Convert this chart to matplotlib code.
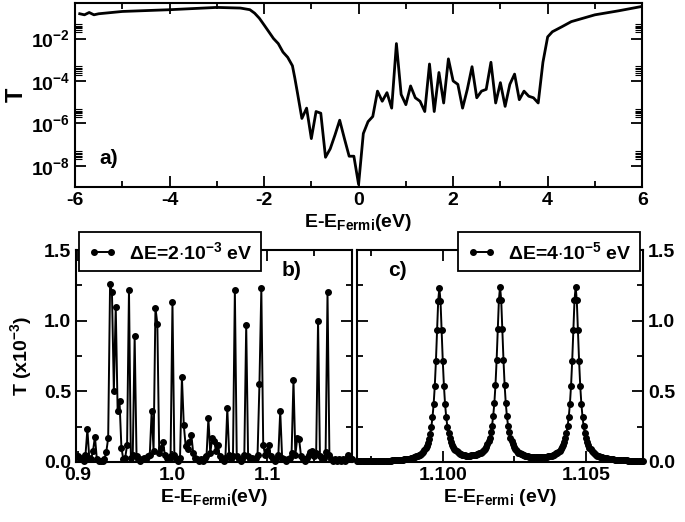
import numpy as np
import matplotlib
matplotlib.use("Agg")
import matplotlib.pyplot as plt
from matplotlib.ticker import MultipleLocator, FixedLocator, NullFormatter

plt.rcParams['font.family'] = ['Liberation Sans', 'DejaVu Sans']
plt.rcParams['font.weight'] = 'bold'
plt.rcParams['axes.labelweight'] = 'bold'
plt.rcParams['mathtext.fontset'] = 'custom'
plt.rcParams['mathtext.rm'] = 'Liberation Sans:bold'
plt.rcParams['mathtext.bf'] = 'Liberation Sans:bold'
plt.rcParams['mathtext.it'] = 'Liberation Sans:bold'

# ---- panel a) : wide energy window, log scale ----
x_a = [-5.9, -5.8, -5.7, -5.6, -5.5, -5.0, -4.0, -3.0, -2.5, -2.3, -2.2, -2.1,
       -2.0, -1.9, -1.8, -1.7, -1.6, -1.5, -1.4, -1.35, -1.3, -1.2, -1.1, -1.0,
       -0.9, -0.8, -0.7, -0.6, -0.5, -0.4, -0.3, -0.2, -0.1, 0.0,
       0.1, 0.2, 0.3, 0.4, 0.5, 0.6, 0.7, 0.8, 0.9, 1.0,
       1.1, 1.2, 1.3, 1.4, 1.5, 1.6, 1.7, 1.8, 1.9, 2.0,
       2.1, 2.2, 2.3, 2.4, 2.5, 2.6, 2.7, 2.8, 2.9, 3.0,
       3.1, 3.2, 3.3, 3.4, 3.5, 3.6, 3.7, 3.8, 3.9,
       4.0, 4.1, 4.3, 4.5, 5.0, 5.5, 6.0]
T_a = [0.148, 0.132, 0.17, 0.132, 0.148, 0.19, 0.23, 0.295, 0.275, 0.23, 0.158, 0.091,
       0.044, 0.021, 0.01, 5.8e-3, 2.3e-3, 1.3e-3, 5.2e-4, 1.4e-4, 3.3e-5, 1.7e-6, 5.2e-6, 1.9e-7,
       3.6e-6, 3.0e-6, 2.5e-8, 6.3e-8, 2.8e-7, 1.4e-6, 1.9e-7, 2.8e-8, 2.8e-8, 1.3e-9,
       3.3e-7, 1.2e-6, 2.1e-6, 3.3e-5, 1.1e-5, 2.8e-5, 5.2e-6, 5.8e-3, 2.3e-5, 7.6e-6,
       5.8e-5, 1.6e-5, 1.1e-5, 3.6e-6, 6.3e-4, 3.6e-6, 2.5e-4, 9.1e-6, 1.1e-3, 1.0e-4,
       6.9e-5, 5.2e-6, 4.0e-5, 4.7e-4, 1.6e-5, 3.3e-5, 4.0e-5, 7.6e-4, 9.1e-6, 8.3e-5,
       6.3e-6, 6.9e-5, 2.1e-4, 1.3e-5, 3.3e-5, 1.9e-5, 1.6e-5, 9.1e-6, 7.6e-4,
       1.2e-2, 2.1e-2, 3.6e-2, 6.3e-2, 0.132, 0.204, 0.33]

# ---- panel b) : dE = 2e-3 eV sampling ----
dE_b = 2e-3
x_b = 0.900 + dE_b * np.arange(146)
T_b = [0.04, 0.03, 0.02, 0.01, 0.05, 0.23, 0.03, 0.02, 0.08, 0.18,
       0.02, 0.01, 0.01, 0.01, 0.02, 0.07, 0.17, 1.26, 1.20, 0.50,
       1.10, 0.36, 0.43, 0.10, 0.02, 0.03, 0.12, 1.22, 0.03, 0.05,
       0.89, 0.04, 0.02, 0.01, 0.02, 0.03, 0.02, 0.04, 0.05, 0.36,
       0.08, 1.09, 0.98, 0.06, 0.10, 0.14, 0.05, 0.03, 0.02, 0.04,
       1.13, 0.05, 0.02, 0.01, 0.03, 0.60, 0.26, 0.11, 0.09, 0.14,
       0.19, 0.06, 0.03, 0.02, 0.01, 0.02, 0.01, 0.03, 0.04, 0.31,
       0.06, 0.17, 0.15, 0.08, 0.12, 0.04, 0.02, 0.01, 0.03, 0.38,
       0.05, 0.02, 0.04, 1.22, 0.04, 0.02, 0.01, 0.02, 0.05, 0.97,
       0.04, 0.02, 0.03, 0.02, 0.03, 0.05, 0.55, 1.23, 0.12, 0.05,
       0.08, 0.12, 0.04, 0.02, 0.01, 0.02, 0.05, 0.36, 0.03, 0.02,
       0.01, 0.02, 0.03, 0.06, 0.58, 0.05, 0.17, 0.16, 0.04, 0.02,
       0.01, 0.03, 0.05, 0.07, 0.08, 0.04, 0.06, 1.00, 0.04, 0.02,
       0.03, 0.07, 1.20, 0.05, 0.02, 0.01, 0.02, 0.01, 0.02, 0.01,
       0.02, 0.01, 0.02, 0.05, 0.03, 0.02]

# ---- panel c) : dE = 4e-5 eV sampling ----
dE_c = 4e-5
x_c = 1.0970 + dE_c * np.arange(251)
T_c = [0.004, 0.004, 0.004, 0.004, 0.004, 0.005, 0.005, 0.005, 0.005, 0.005,
       0.005, 0.005, 0.005, 0.006, 0.006, 0.006, 0.006, 0.006, 0.006, 0.007,
       0.007, 0.007, 0.007, 0.007, 0.008, 0.008, 0.008, 0.008, 0.009, 0.009,
       0.010, 0.011, 0.011, 0.012, 0.012, 0.013, 0.013, 0.014, 0.015, 0.015,
       0.017, 0.018, 0.019, 0.020, 0.021, 0.022, 0.024, 0.026, 0.028, 0.030,
       0.032, 0.035, 0.039, 0.042, 0.047, 0.052, 0.058, 0.066, 0.074, 0.085,
       0.099, 0.116, 0.137, 0.165, 0.201, 0.249, 0.315, 0.407, 0.536, 0.712,
       0.932, 1.142, 1.230, 1.142, 0.932, 0.714, 0.538, 0.409, 0.317, 0.251,
       0.206, 0.170, 0.143, 0.122, 0.106, 0.093, 0.083, 0.075, 0.068, 0.062,
       0.057, 0.053, 0.051, 0.048, 0.046, 0.045, 0.044, 0.043, 0.042, 0.042,
       0.046, 0.047, 0.048, 0.049, 0.051, 0.054, 0.056, 0.060, 0.065, 0.070,
       0.077, 0.085, 0.095, 0.108, 0.125, 0.146, 0.173, 0.209, 0.257, 0.323,
       0.415, 0.544, 0.720, 0.938, 1.148, 1.240, 1.148, 0.938, 0.720, 0.544,
       0.415, 0.323, 0.257, 0.209, 0.173, 0.145, 0.124, 0.107, 0.094, 0.083,
       0.075, 0.067, 0.062, 0.057, 0.053, 0.050, 0.046, 0.043, 0.042, 0.040,
       0.037, 0.036, 0.034, 0.034, 0.034, 0.033, 0.033, 0.032, 0.032, 0.032,
       0.032, 0.033, 0.033, 0.033, 0.034, 0.035, 0.037, 0.039, 0.040, 0.042,
       0.044, 0.047, 0.050, 0.055, 0.060, 0.065, 0.073, 0.081, 0.092, 0.105,
       0.121, 0.142, 0.170, 0.206, 0.254, 0.320, 0.412, 0.541, 0.717, 0.935,
       1.144, 1.240, 1.144, 0.934, 0.716, 0.540, 0.411, 0.319, 0.253, 0.205,
       0.168, 0.140, 0.119, 0.102, 0.089, 0.078, 0.070, 0.062, 0.056, 0.051,
       0.045, 0.042, 0.038, 0.035, 0.033, 0.031, 0.029, 0.027, 0.025, 0.024,
       0.022, 0.021, 0.020, 0.019, 0.018, 0.017, 0.016, 0.015, 0.015, 0.014,
       0.013, 0.012, 0.012, 0.012, 0.011, 0.011, 0.011, 0.010, 0.010, 0.010,
       0.009, 0.009, 0.009, 0.009, 0.008, 0.008, 0.008, 0.008, 0.008, 0.008, 0.007]

FS = 14

fig = plt.figure(figsize=(6.85, 5.22), dpi=100)
ax_a = fig.add_axes([0.1095, 0.642, 0.828, 0.352])
ax_b = fig.add_axes([0.111, 0.115, 0.403, 0.406])
ax_c = fig.add_axes([0.521, 0.115, 0.418, 0.406])

def style(ax):
    for s in ax.spines.values():
        s.set_linewidth(1.5)
    ax.tick_params(which='both', direction='in', top=True, right=True,
                   labelsize=FS, width=1.3)
    ax.tick_params(which='major', length=8)
    ax.tick_params(which='minor', length=4.5)

# a)
ax_a.plot(x_a, T_a, color='black', lw=2)
ax_a.set_yscale('log')
ax_a.set_xlim(-6, 6)
ax_a.set_ylim(1e-9, 0.47)
ax_a.xaxis.set_major_locator(MultipleLocator(2))
ax_a.xaxis.set_minor_locator(MultipleLocator(1))
ax_a.yaxis.set_major_locator(FixedLocator([1e-8, 1e-6, 1e-4, 1e-2]))
ax_a.set_yticklabels([r'$10^{-8}$', r'$10^{-6}$', r'$10^{-4}$', r'$10^{-2}$'])
minor = [k * 10.0**d for d in (-8, -6, -4, -2) for k in (2, 2.5, 3, 3.5, 4, 5)]
ax_a.yaxis.set_minor_locator(FixedLocator(minor))
ax_a.yaxis.set_minor_formatter(NullFormatter())
style(ax_a)
ax_a.tick_params(axis='y', which='minor', length=5, width=0.8)
ax_a.set_xticks(range(-6, 7, 2))
ax_a.set_xticklabels(['-6', '-4', '-2', '0', '2', '4', '6'])
ax_a.set_xlabel(r'E-E$_{\rm Fermi}$(eV)', fontsize=FS, labelpad=2)
ax_a.set_ylabel('T', fontsize=FS + 3, labelpad=2)
ax_a.text(0.06, 0.155, 'a)', transform=ax_a.transAxes, fontsize=FS + 1,
          fontweight='bold', ha='center', va='center')

# b)
ax_b.plot(x_b, T_b, color='black', lw=1.4, marker='o', ms=4, clip_on=False,
          label=r'$\Delta$E=2$\cdot$10$^{-3}$ eV')
ax_b.set_xlim(0.898, 1.19)
ax_b.set_ylim(0, 1.5)
ax_b.xaxis.set_major_locator(MultipleLocator(0.1))
ax_b.xaxis.set_minor_locator(MultipleLocator(0.05))
ax_b.yaxis.set_major_locator(MultipleLocator(0.5))
ax_b.yaxis.set_minor_locator(MultipleLocator(0.25))
style(ax_b)
ax_b.set_xticks([0.9, 1.0, 1.1])
ax_b.set_xticklabels(['0.9', '1.0', '1.1'])
ax_b.set_yticks([0, 0.5, 1.0, 1.5])
ax_b.set_yticklabels(['0.0', '0.5', '1.0', '1.5'])
ax_b.set_xlabel(r'E-E$_{\rm Fermi}$(eV)', fontsize=FS, labelpad=2)
ax_b.set_ylabel(r'T (x10$^{-3}$)', fontsize=FS, labelpad=7)
ax_b.text(0.78, 0.905, 'b)', transform=ax_b.transAxes, fontsize=FS + 1,
          fontweight='bold', ha='center', va='center')
leg_b = ax_b.legend(loc='upper left', bbox_to_anchor=(0.011, 1.085),
                    borderaxespad=0, numpoints=2, handlelength=1.5,
                    fontsize=FS, fancybox=False, framealpha=1,
                    edgecolor='black', borderpad=0.45, handletextpad=0.6)
leg_b.get_frame().set_linewidth(1.3)
leg_b.set_zorder(5)

# c)
ax_c.plot(x_c, T_c, color='black', lw=1.4, marker='o', ms=4, clip_on=False,
          label=r'$\Delta$E=4$\cdot$10$^{-5}$ eV')
ax_c.set_xlim(1.097, 1.107)
ax_c.set_ylim(0, 1.5)
ax_c.xaxis.set_major_locator(MultipleLocator(0.005))
ax_c.xaxis.set_minor_locator(MultipleLocator(0.0025))
ax_c.yaxis.set_major_locator(MultipleLocator(0.5))
ax_c.yaxis.set_minor_locator(MultipleLocator(0.25))
style(ax_c)
ax_c.set_xticks([1.100, 1.105])
ax_c.set_xticklabels(['1.100', '1.105'])
ax_c.set_yticks([0, 0.5, 1.0, 1.5])
ax_c.set_yticklabels(['0.0', '0.5', '1.0', '1.5'])
ax_c.tick_params(axis='y', labelleft=False, labelright=True)
ax_c.set_xlabel(r'E-E$_{\rm Fermi}$ (eV)', fontsize=FS, labelpad=2)
ax_c.text(0.14, 0.905, 'c)', transform=ax_c.transAxes, fontsize=FS + 1,
          fontweight='bold', ha='center', va='center')
leg_c = ax_c.legend(loc='upper right', bbox_to_anchor=(0.99, 1.085),
                    borderaxespad=0, numpoints=2, handlelength=1.5,
                    fontsize=FS, fancybox=False, framealpha=1,
                    edgecolor='black', borderpad=0.45, handletextpad=0.6)
leg_c.get_frame().set_linewidth(1.3)
leg_c.set_zorder(5)

fig.savefig('out.png', dpi=100)
